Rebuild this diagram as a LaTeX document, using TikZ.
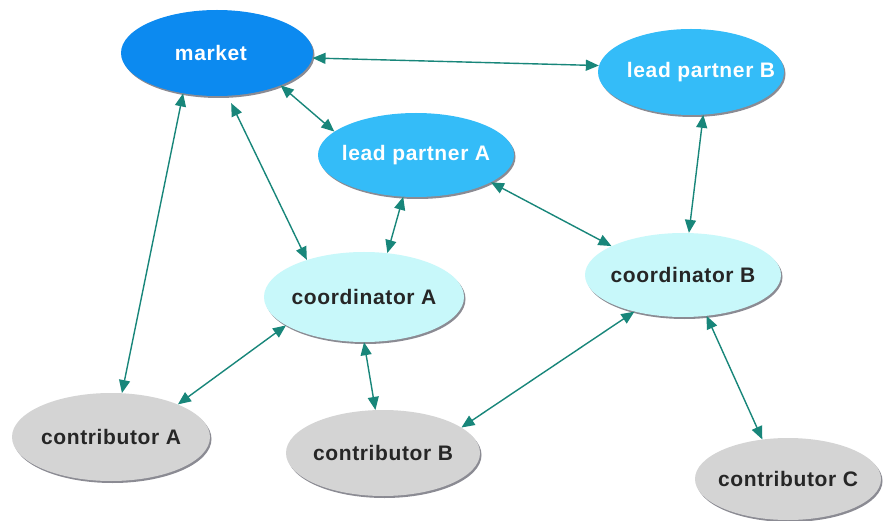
\documentclass[tikz,border=0pt]{standalone}
\usepackage{fontspec}
\setmainfont{Liberation Sans}
\newfontfamily\lblfont[LetterSpace=3]{Liberation Sans}
\usetikzlibrary{shapes.geometric,arrows.meta,shadows}
\definecolor{mktblue}{RGB}{12,138,240}
\definecolor{leadblue}{RGB}{52,188,248}
\definecolor{coordcyan}{RGB}{200,248,250}
\definecolor{contrgray}{RGB}{212,212,212}
\definecolor{arrowteal}{RGB}{24,134,122}
\definecolor{shadowgray}{RGB}{110,110,120}
\tikzset{
  blob/.style={ellipse, inner sep=0pt, draw=none,
    drop shadow={shadow xshift=1.5pt, shadow yshift=-2pt, fill=shadowgray, opacity=0.8}},
  mktnode/.style={blob, fill=mktblue},
  leadnode/.style={blob, fill=leadblue},
  coordnode/.style={blob, fill=coordcyan},
  contrnode/.style={blob, fill=contrgray},
  whitetxt/.style={font=\lblfont\bfseries\fontsize{21}{23}\selectfont, text=white},
  blacktxt/.style={font=\lblfont\bfseries\fontsize{21}{23}\selectfont, text=black!85},
  link/.style={draw=arrowteal, line width=1.4pt,
    {Triangle[length=13pt,width=11pt]}-{Triangle[length=13pt,width=11pt]}},
}
\begin{document}
\begin{tikzpicture}[x=1pt,y=-1pt]
\useasboundingbox[fill=white] (0,0) rectangle (883,521);
% nodes
\node[mktnode, minimum width=192pt, minimum height=86pt] (market) at (217,53) {};
\node[leadnode, minimum width=186pt, minimum height=86pt] (leadB) at (691,72) {};
\node[leadnode, minimum width=196pt, minimum height=84pt] (leadA) at (416,155) {};
\node[coordnode, minimum width=200pt, minimum height=90pt] (coordA) at (364,297) {};
\node[coordnode, minimum width=196pt, minimum height=84pt] (coordB) at (683,275) {};
\node[contrnode, minimum width=198pt, minimum height=88pt] (contrA) at (111,437) {};
\node[contrnode, minimum width=194pt, minimum height=86pt] (contrB) at (383,453) {};
\node[contrnode, minimum width=186pt, minimum height=82pt] (contrC) at (788,479) {};
% labels
\node[whitetxt] (marketT) at ([xshift=-6pt]market.center) {market};
\node[whitetxt] (leadBT) at ([xshift=10pt]leadB.center) {lead partner B};
\node[whitetxt] (leadAT) at (leadA) {lead partner A};
\node[blacktxt] (coordAT) at (coordA) {coordinator A};
\node[blacktxt] (coordBT) at (coordB) {coordinator B};
\node[blacktxt] (contrAT) at (contrA) {contributor A};
\node[blacktxt] (contrBT) at (contrB) {contributor B};
\node[blacktxt] (contrCT) at (contrC) {contributor C};
% connectors
\draw[link] (market.-3) -- (leadB.176);
\draw[link] (market.-27) -- (leadA.164);
\draw[link, shorten <=8pt] (market.-76) -- (coordA.147);
\draw[link] (market.-130) -- (contrA.76);
\draw[link] (leadA.-107) -- (coordA.62);
\draw[link] (leadA.-20) -- (coordB.158);
\draw[link] (leadB.-74) -- (coordB.82);
\draw[link] (coordA.-160) -- (contrA.26);
\draw[link] (coordA.-90) -- (contrB.100);
\draw[link] (coordB.-143) -- (contrB.18);
\draw[link] (coordB.-60) -- (contrC.123);
\end{tikzpicture}
\end{document}
